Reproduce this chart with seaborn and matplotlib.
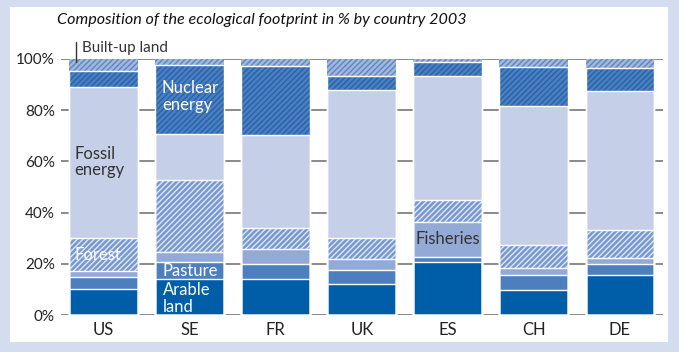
import matplotlib
matplotlib.use("Agg")
import matplotlib.pyplot as plt
import matplotlib.patches as mpatches
import seaborn as sns
import pandas as pd
import numpy as np

countries = ["US", "SE", "FR", "UK", "ES", "CH", "DE"]
arable    = [10.1, 14.3, 14.0, 12.1, 20.8, 10.0, 15.8]
pasture   = [4.7, 6.6, 5.9, 5.4, 2.0, 5.7, 4.1]
fisheries = [2.6, 3.8, 5.8, 4.4, 13.4, 2.6, 2.6]
forest    = [12.8, 28.0, 8.4, 8.3, 8.7, 9.2, 10.9]
fossil    = [58.9, 17.8, 36.0, 57.5, 48.4, 54.2, 54.0]
nuclear   = [6.2, 26.9, 27.1, 5.7, 5.6, 15.2, 8.9]
builtup   = [4.7, 2.6, 2.8, 6.6, 1.1, 3.1, 3.7]
ytick_labels = ["0%", "20%", "40%", "60%", "80%", "100%"]

layers = [
    ("Arable land", arable, "#005da8", None, None),
    ("Pasture", pasture, "#4d7fbe", None, None),
    ("Fisheries", fisheries, "#94aad6", None, None),
    ("Forest", forest, "#7898d0", "//////", "#dfe7f5"),
    ("Fossil energy", fossil, "#c5d0e8", None, None),
    ("Nuclear energy", nuclear, "#4d7fbe", "//////", "#2463ad"),
    ("Built-up land", builtup, "#a3b7de", "//////", "#5a86c4"),
]

sns.set_theme(style="white")
plt.rcParams["font.family"] = ["Lato", "DejaVu Sans"]
plt.rcParams["hatch.linewidth"] = 1.0

fig = plt.figure(figsize=(6.79, 3.52), dpi=100)
fig.patch.set_facecolor("#d4ddf0")
fig.patches.append(mpatches.Rectangle((10 / 679, 1 - 342 / 352), 658 / 679, 335 / 352,
                                      transform=fig.transFigure, facecolor="white",
                                      edgecolor="none", zorder=-5))
ax = fig.add_axes([60.5 / 679, 1 - 315.3 / 352, 602.5 / 679, 256.6 / 352])
ax.set_zorder(2)
ax.set_facecolor("none")

vals = np.array([l[1] for l in layers])
cum = np.cumsum(vals, axis=0)

# fills, top layer first so lower ones cover
for i in range(len(layers) - 1, -1, -1):
    name, v, col, hatch, hcol = layers[i]
    df = pd.DataFrame({"country": countries, "value": cum[i]})
    kw = dict(data=df, x="country", y="value", order=countries, color=col,
              saturation=1, errorbar=None, width=0.8, ax=ax)
    if hatch:
        sns.barplot(**kw, hatch=hatch, edgecolor=hcol, linewidth=0)
    else:
        sns.barplot(**kw, edgecolor="white", linewidth=0)

# white separators
for i in range(len(layers) - 1):
    df = pd.DataFrame({"country": countries, "value": cum[i]})
    sns.barplot(data=df, x="country", y="value", order=countries, color="white",
                fill=False, saturation=1, errorbar=None, width=0.8, linewidth=1.0, ax=ax)

ax.set_xlim(-0.5, 6.5)
ax.set_ylim(0, 100)
ax.set_yticks([0, 20, 40, 60, 80, 100])
ax.set_yticklabels(ytick_labels)
ax.set_xlabel("")
ax.set_ylabel("")
ax.yaxis.grid(True, color="#8a8a8a", linewidth=1.4)
ax.xaxis.grid(False)
ax.set_axisbelow(True)
for s in ax.spines.values():
    s.set_visible(False)
ax.tick_params(axis="y", length=0, pad=4, labelsize=11, labelcolor="#222222")
ax.tick_params(axis="x", length=0, pad=5, labelsize=12, labelcolor="#222222")

txt = dict(fontsize=12, ha="left", va="center", linespacing=1.05)
ax.text(-0.343, 59.7, "Fossil\nenergy", color="#333333", **txt)
ax.text(-0.343, 23.5, "Forest", color="white", **txt)
ax.text(0.677, 85.2, "Nuclear\nenergy", color="white", **txt)
ax.text(0.689, 17.3, "Pasture", color="white", **txt)
ax.text(0.689, 6.6, "Arable\nland", color="white", **txt)
ax.text(3.625, 29.6, "Fisheries", color="#333333", **txt)
ax.plot([-0.319, -0.319], [98.6, 106.6], color="#333333", lw=1.0, clip_on=False)
ax.text(-0.25, 104.2, "Built-up land", color="#333333", fontsize=11, ha="left", va="center")

fig.text(262 / 679, 1 - 20 / 352, "Composition of the ecological footprint in % by country 2003",
         fontsize=11.6, style="italic", ha="center", va="center", color="#111111")

fig.savefig("out.png", dpi=100, facecolor=fig.get_facecolor())
